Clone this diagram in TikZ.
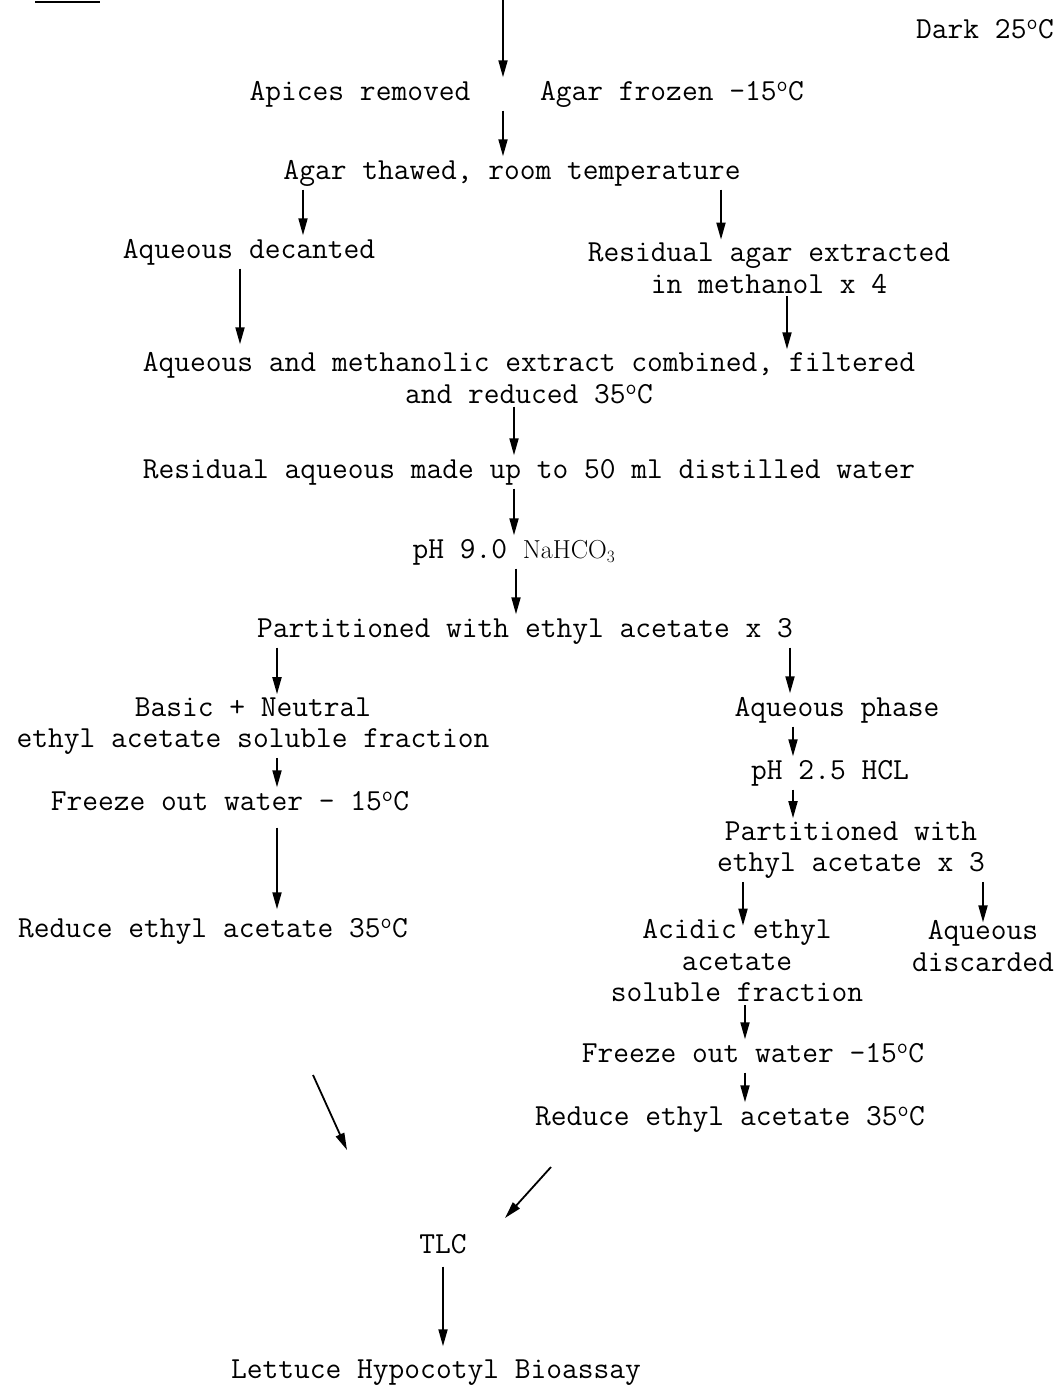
\documentclass[tikz,border=0pt]{standalone}
\usepackage{fontspec}
\usetikzlibrary{arrows.meta}
\newcommand{\degsup}{\textsuperscript{o}}
\begin{document}
\begin{tikzpicture}[x=1pt,y=-1pt,
  txt/.style={font=\ttfamily\fontsize{30.6}{31.5}\selectfont\addfontfeature{FakeBold=0.6}, inner sep=0pt, text height=20pt, text depth=7pt},
  txtm/.style={font=\ttfamily\fontsize{30.6}{31.5}\selectfont\addfontfeature{FakeBold=0.6}, inner sep=0pt, align=center},
  arr/.style={line width=1.8pt, -{Triangle[length=17pt,width=9pt]}, shorten <=3pt, shorten >=3pt}]
\useasboundingbox (0,0) rectangle (1061,1389);

% fragment of cut-off line at the top
\draw[line width=2.5pt] (35,2) -- (100,2);

% nodes
\node[txt] (dark) at (985,32) {Dark 25\degsup C};
\node[txt] (apices) at (360,94) {Apices removed};
\node[txt] (frozen) at (672,94) {Agar frozen -15\degsup C};
\node[txt] (thaw) at (512,173) {Agar thawed, room temperature};
\node[txt] (aqdec) at (249,252) {Aqueous decanted};
\node[txtm] (resid) at (769,268) {Residual agar extracted\\in methanol x 4};
\node[txtm] (comb) at (529,378) {Aqueous and methanolic extract combined, filtered\\and reduced 35\degsup C};
\node[txt] (resaq) at (529,472) {Residual aqueous made up to 50 ml distilled water};
\node[txt] (ph9) at (514,552) {pH 9.0 {\rmfamily\fontsize{26}{26}\selectfont NaHCO$_3$}};
\node[txt] (part) at (525,631) {Partitioned with ethyl acetate x 3};
\node[txtm] (basic) at (253,726) {Basic + Neutral\\ethyl acetate soluble fraction};
\node[txt] (aqph) at (837,710) {Aqueous phase};
\node[txt] (frz1) at (230,804) {Freeze out water - 15\degsup C};
\node[txt] (red1) at (213,931) {Reduce ethyl acetate 35\degsup C};
\node[txt] (ph25) at (830,773) {pH 2.5 HCL};
\node[txtm] (part2) at (851,850) {Partitioned with\\ethyl acetate x 3};
\node[txtm] (acid) at (737,961) {Acidic ethyl\\acetate\\soluble fraction};
\node[txtm] (aqdisc) at (983,946) {Aqueous\\discarded};
\node[txt] (frz2) at (753,1056) {Freeze out water -15\degsup C};
\node[txt] (red2) at (730,1119) {Reduce ethyl acetate 35\degsup C};
\node[txt] (tlc) at (443,1247) {TLC};
\node[txt] (lett) at (436,1372) {Lettuce Hypocotyl Bioassay};

% column coordinates
\coordinate (top) at (503,0);
\coordinate (x303) at (303,0);
\coordinate (x721) at (721,0);
\coordinate (x240) at (240,0);
\coordinate (x787) at (787,0);
\coordinate (x514) at (514,0);
\coordinate (x516) at (516,0);
\coordinate (x277) at (277,0);
\coordinate (x790) at (790,0);
\coordinate (x793) at (793,0);
\coordinate (x743) at (743,0);
\coordinate (x983) at (983,0);
\coordinate (x745) at (745,0);
\coordinate (x443) at (443,0);
\coordinate (d1a) at (313,1075);
\coordinate (d1b) at (347,1150);
\coordinate (d2a) at (551,1167);
\coordinate (d2b) at (505,1218);

% connectors
\draw[arr, shorten <=0pt] (top) -- (apices.north -| top);
\draw[arr] (apices.south -| top) -- (thaw.north -| top);
\draw[arr] (thaw.south -| x303) -- (aqdec.north -| x303);
\draw[arr] (thaw.south -| x721) -- (resid.north -| x721);
\draw[arr, shorten >=8pt] (aqdec.south -| x240) -- (comb.north -| x240);
\draw[arr] (resid.south -| x787) -- (comb.north -| x787);
\draw[arr] (comb.south -| x514) -- (resaq.north -| x514);
\draw[arr] (resaq.south -| x514) -- (ph9.north -| x514);
\draw[arr] (ph9.south -| x516) -- (part.north -| x516);
\draw[arr] (part.south -| x277) -- (basic.north -| x277);
\draw[arr] (part.south -| x790) -- (aqph.north -| x790);
\draw[arr] (basic.south -| x277) -- (frz1.north -| x277);
\draw[arr, shorten <=10pt, shorten >=8pt] (frz1.south -| x277) -- (red1.north -| x277);
\draw[arr] (aqph.south -| x793) -- (ph25.north -| x793);
\draw[arr] (ph25.south -| x793) -- (part2.north -| x793);
\draw[arr, shorten >=-6pt] (part2.south -| x743) -- (acid.north -| x743);
\draw[arr, shorten >=-2pt] (part2.south -| x983) -- (aqdisc.north -| x983);
\draw[arr] (acid.south -| x745) -- (frz2.north -| x745);
\draw[arr] (frz2.south -| x745) -- (red2.north -| x745);
\draw[arr, shorten <=0pt, shorten >=0pt] (d1a) -- (d1b);
\draw[arr, shorten <=0pt, shorten >=0pt] (d2a) -- (d2b);
\draw[arr, shorten <=6pt, shorten >=12pt] (tlc.south -| x443) -- (lett.north -| x443);
\end{tikzpicture}
\end{document}
